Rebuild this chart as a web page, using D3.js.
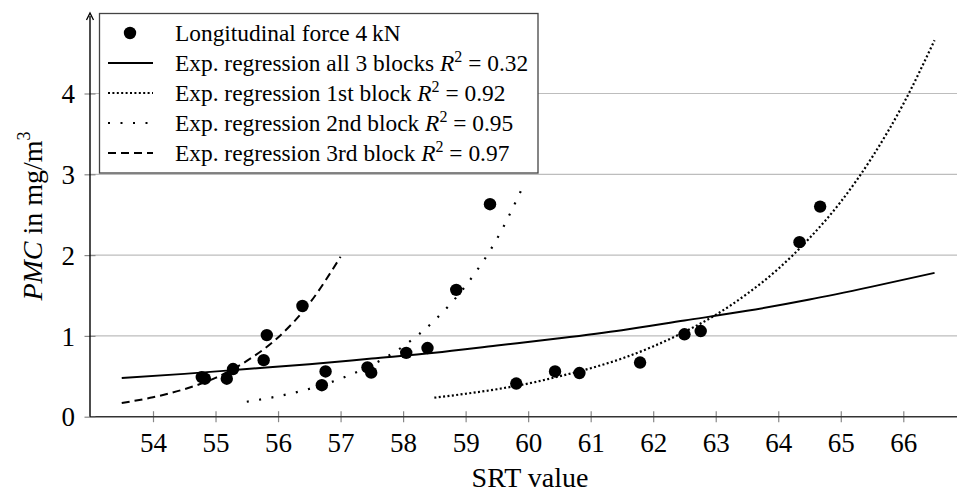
<!DOCTYPE html>
<html><head><meta charset="utf-8">
<script src="https://cdn.jsdelivr.net/npm/d3@7"></script>
<style>
body{margin:0;background:#fff}
svg{display:block}
</style>
</head><body>
<svg id="chart" width="957" height="492"></svg>
<script>
// ---- data ----
const xTickValues = [54,55,56,57,58,59,60,61,62,63,64,65,66];
const yTickValues = [0,1,2,3,4];
const xLabel = "SRT value";

// measured points (Longitudinal force 4 kN)
const pointSRT = [54.78,54.83,55.18,55.28,55.77,55.82,56.39,
                  56.70,56.76,57.43,57.49,58.05,58.39,58.85,59.39,
                  59.81,60.43,60.82,61.79,62.50,62.76,64.34,64.67];
const pointPMC = [0.49,0.47,0.47,0.59,0.70,1.01,1.37,
                  0.39,0.56,0.61,0.545,0.79,0.85,1.57,2.63,
                  0.41,0.56,0.54,0.67,1.02,1.06,2.16,2.60];

// regression curves
const allBlocksX = [53.5,54.5,55.5,56.5,57.5,58.5,59.5,60.5,61.5,62.5,63.5,64.5,65.5,66.5];
const allBlocksY = [0.48,0.53,0.59,0.65,0.72,0.79,0.88,0.97,1.07,1.19,1.31,1.45,1.61,1.78];
const block1X = [58.5,59,59.5,60,60.5,61,61.5,62,62.5,63,63.5,64,64.5,65,65.5,66,66.5];
const block1Y = [0.235,0.284,0.34,0.41,0.50,0.60,0.72,0.87,1.05,1.26,1.52,1.83,2.21,2.66,3.21,3.87,4.66];
const block2X = [55.5,56,56.5,57,57.5,58,58.5,59,59.5,59.93];
const block2Y = [0.185,0.253,0.345,0.47,0.64,0.87,1.19,1.62,2.2,2.87];
const block3X = [53.5,54,54.5,55,55.5,56,56.5,57];
const block3Y = [0.17,0.24,0.34,0.48,0.69,0.98,1.40,1.98];

const legendLabels = [
  {pre:"Longitudinal force 4\u2009kN", r2:null},
  {pre:"Exp. regression all 3 blocks ", r2:"0.32"},
  {pre:"Exp. regression 1st block ", r2:"0.92"},
  {pre:"Exp. regression 2nd block ", r2:"0.95"},
  {pre:"Exp. regression 3rd block ", r2:"0.97"}
];

// ---- drawing ----
const FONT = '"Liberation Serif", "DejaVu Serif", "Noto Serif", serif';
const svg = d3.select("#chart").attr("font-family", FONT);
const x = d3.scaleLinear().domain([54,66]).range([153,903.3]);
const y = d3.scaleLinear().domain([0,4]).range([416.7,93.5]);
const axisLeftX = 90, axisRightX = 957;

// grid
svg.append("g").selectAll("line").data(yTickValues.filter(d=>d>0)).join("line")
  .attr("x1",axisLeftX).attr("x2",axisRightX)
  .attr("y1",d=>y(d)).attr("y2",d=>y(d))
  .attr("stroke","#bdbdbd").attr("stroke-width",1.2);

// x axis
const gx = svg.append("g").attr("transform",`translate(0,${y(0)})`)
  .call(d3.axisBottom(x).tickValues(xTickValues).tickFormat(d3.format("d")).tickSizeOuter(0))
  .attr("font-family", FONT).attr("font-size", 27);
gx.select(".domain").remove();
gx.selectAll(".tick line").attr("y1",-5.5).attr("y2",5.5).attr("stroke","#888").attr("stroke-width",1.2);
gx.selectAll(".tick text").attr("y",35).attr("dy",null).attr("fill","#000");
svg.append("line").attr("x1",axisLeftX).attr("x2",axisRightX).attr("y1",y(0)).attr("y2",y(0))
  .attr("stroke","#333").attr("stroke-width",1.6);

// y axis
const gy = svg.append("g").attr("transform",`translate(${axisLeftX},0)`)
  .call(d3.axisLeft(y).tickValues(yTickValues).tickFormat(d3.format("d")).tickSizeOuter(0))
  .attr("font-family", FONT).attr("font-size", 27);
gy.select(".domain").remove();
gy.selectAll(".tick line").attr("x1",-5.5).attr("x2",5.5).attr("stroke","#888").attr("stroke-width",1.2);
gy.selectAll(".tick text").attr("x",-15).attr("dy","0.34em").attr("fill","#000");
svg.append("line").attr("x1",axisLeftX).attr("x2",axisLeftX).attr("y1",y(0)).attr("y2",16)
  .attr("stroke","#000").attr("stroke-width",1.4);
svg.append("path").attr("d",`M${axisLeftX-3.5},20 L${axisLeftX},13 L${axisLeftX+3.5},20`)
  .attr("fill","none").attr("stroke","#000").attr("stroke-width",1.3);

// axis titles
svg.append("text").attr("x",530).attr("y",487).attr("text-anchor","middle")
  .attr("font-size",28).text(xLabel);
const yl = svg.append("text").attr("transform","translate(42,216) rotate(-90)")
  .attr("text-anchor","middle").attr("font-size",28);
yl.append("tspan").attr("font-style","italic").text("PMC");
yl.append("tspan").text(" in mg/m");
yl.append("tspan").attr("font-size",18).attr("dy",-12).text("3");

// curves
const line = d3.line().x(d=>x(d[0])).y(d=>y(d[1])).curve(d3.curveMonotoneX);
const curves = [
  {xs:allBlocksX, ys:allBlocksY, dash:null, w:2},
  {xs:block1X, ys:block1Y, dash:"2,2.4", w:2.2},
  {xs:block2X, ys:block2Y, dash:"2,10.5", w:2.2},
  {xs:block3X, ys:block3Y, dash:"8,5", w:2}
];
curves.forEach(c=>{
  svg.append("path").datum(c.xs.map((v,i)=>[v,c.ys[i]]))
    .attr("d",line).attr("fill","none").attr("stroke","#000")
    .attr("stroke-width",c.w).attr("stroke-dasharray",c.dash);
});

// points
svg.append("g").selectAll("circle").data(pointSRT.map((v,i)=>[v,pointPMC[i]])).join("circle")
  .attr("cx",d=>x(d[0])).attr("cy",d=>y(d[1])).attr("r",6.2).attr("fill","#000");

// legend
const lg = svg.append("g");
lg.append("rect").attr("x",99.5).attr("y",13.5).attr("width",438.5).attr("height",159.5)
  .attr("fill","#fff").attr("stroke","#444").attr("stroke-width",1.3);
const rowY = i => 33 + i*30;
lg.append("circle").attr("cx",130).attr("cy",rowY(0)).attr("r",6.2).attr("fill","#000");
curves.forEach((c,i)=>{
  lg.append("line").attr("x1",108).attr("x2",153).attr("y1",rowY(i+1)).attr("y2",rowY(i+1))
    .attr("stroke","#000").attr("stroke-width",c.w).attr("stroke-dasharray",c.dash);
});
legendLabels.forEach((l,i)=>{
  const t = lg.append("text").attr("x",175).attr("y",rowY(i)+8).attr("font-size",23.4);
  t.append("tspan").text(l.pre);
  if(l.r2){
    t.append("tspan").attr("font-style","italic").text("R");
    t.append("tspan").attr("font-size",16).attr("dy",-9).text("2");
    t.append("tspan").attr("dy",9).text(" = " + l.r2);
  }
});
</script>
</body></html>
